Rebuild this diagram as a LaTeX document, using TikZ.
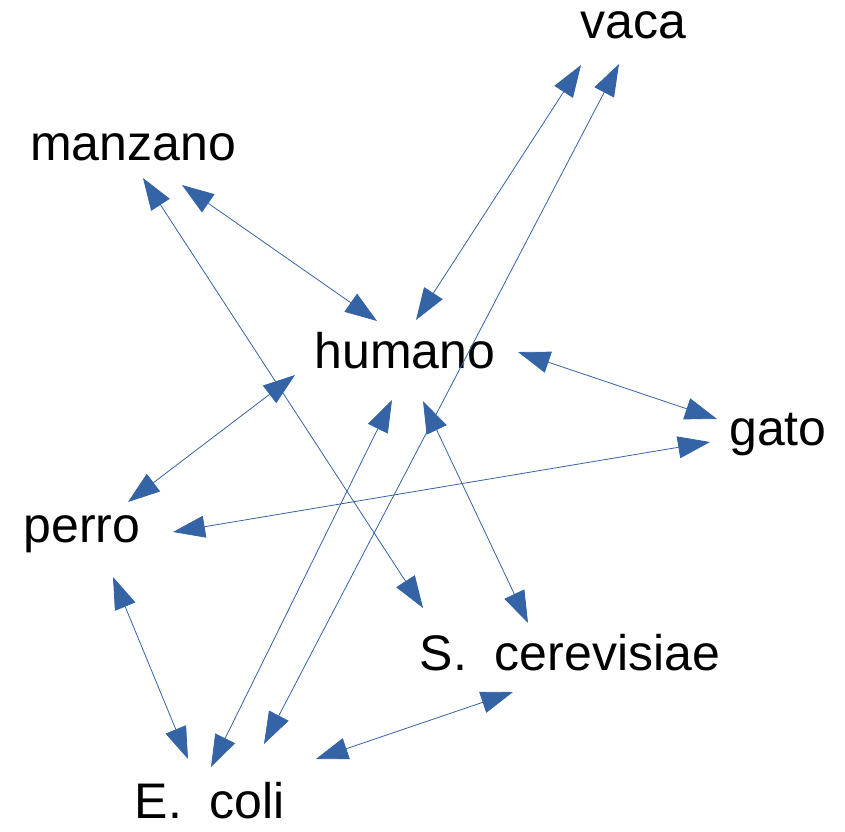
\documentclass[tikz,border=0pt]{standalone}
\usepackage{fontspec}
\setmainfont{Liberation Sans}
\usepackage{tikz}
\usetikzlibrary{arrows.meta}
\definecolor{linkblue}{RGB}{52,99,166}

\begin{document}
\begin{tikzpicture}[x=1pt,y=-1pt]
\useasboundingbox (0,0) rectangle (845,831);
\begin{scope}[every node/.style={anchor=base,inner sep=0pt,font=\fontsize{50}{60}\selectfont}]
	\node (vaca) at (633,38) {vaca};
	\node (manzano) at (133,160) {manzano};
	\node (humano) at (405,368) {humano};
	\node (gato) at (778,445) {gato};
	\node (perro) at (82,542) {perro};
	\node (scer) at (570,670) {S.\ \ cerevisiae};
	\node (ecoli) at (210,818) {E.\ \ coli};
\end{scope}

% ends of the links
\coordinate (vaca-l) at (581,65);
\coordinate (vaca-r) at (619,64);
\coordinate (manzano-l) at (143,178);
\coordinate (manzano-r) at (182,185);
\coordinate (humano-nw) at (377,321);
\coordinate (humano-n) at (416,320);
\coordinate (humano-e) at (518,352);
\coordinate (humano-w) at (295,375);
\coordinate (humano-sw) at (392,400);
\coordinate (humano-se) at (423,401);
\coordinate (gato-u) at (717,419);
\coordinate (gato-d) at (710,442);
\coordinate (perro-u) at (128,502);
\coordinate (perro-e) at (173,532);
\coordinate (perro-d) at (113,577);
\coordinate (scer-l) at (423,608);
\coordinate (scer-r) at (528,623);
\coordinate (scer-d) at (513,692);
\coordinate (ecoli-1) at (188,759);
\coordinate (ecoli-2) at (211,767);
\coordinate (ecoli-3) at (264,744);
\coordinate (ecoli-4) at (316,759);

\begin{scope}[>={Triangle[length=32pt,width=22pt,linkblue]},
              every edge/.style={draw=linkblue,line width=0.8pt,<->}]
	\path (vaca-l) edge (humano-n);
	\path (vaca-r) edge (ecoli-3);
	\path (manzano-l) edge (scer-l);
	\path (manzano-r) edge (humano-nw);
	\path (humano-e) edge (gato-u);
	\path (humano-w) edge (perro-u);
	\path (humano-sw) edge (ecoli-2);
	\path (humano-se) edge (scer-r);
	\path (gato-d) edge (perro-e);
	\path (perro-d) edge (ecoli-1);
	\path (scer-d) edge (ecoli-4);
\end{scope}
\end{tikzpicture}
\end{document}
